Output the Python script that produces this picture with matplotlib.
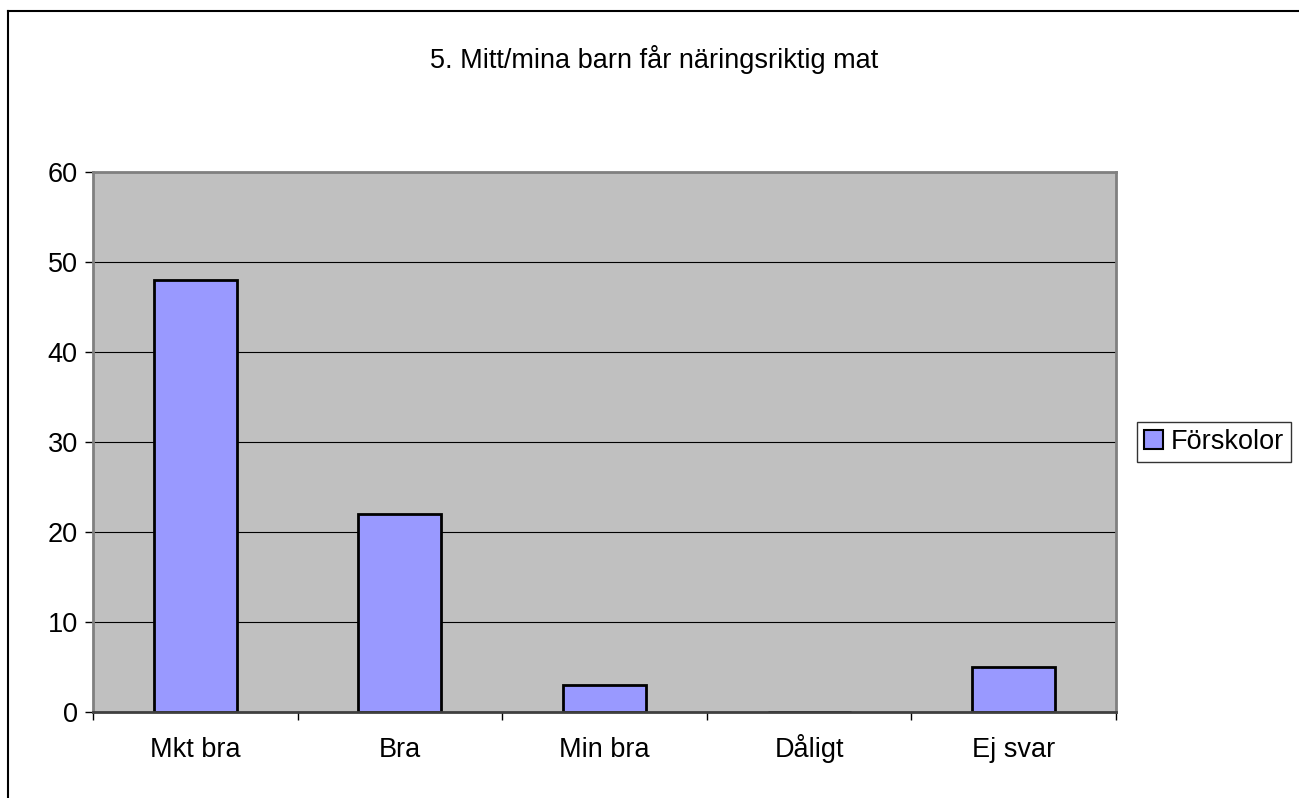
import matplotlib
matplotlib.use("Agg")
import matplotlib.pyplot as plt
from matplotlib.lines import Line2D
from matplotlib.patches import Patch
from matplotlib.transforms import blended_transform_factory

categories = ["Mkt bra", "Bra", "Min bra", "Dåligt", "Ej svar"]
values = [48, 22, 3, 0, 5]
series_name = "Förskolor"
title = "5. Mitt/mina barn får näringsriktig mat"
yticks = [0, 10, 20, 30, 40, 50, 60]

plt.rcParams['font.family'] = ['Liberation Sans', 'DejaVu Sans']
FS = 19.5
W, H = 1299, 798
fig = plt.figure(figsize=(W / 100, H / 100), dpi=100)

# outer chart border (only left/top visible)
fig.add_artist(Line2D([8 / W, 8 / W], [0, 1 - 11 / H], color="black", lw=1.5, transform=fig.transFigure))
fig.add_artist(Line2D([8 / W, 1], [1 - 11 / H, 1 - 11 / H], color="black", lw=1.5, transform=fig.transFigure))

left, right, top, bottom = 93, 1116, 172, 712
ax = fig.add_axes([left / W, 1 - bottom / H, (right - left) / W, (bottom - top) / H])
ax.set_facecolor("#c0c0c0")

x = list(range(len(categories)))
ax.bar(x, values, width=0.405, color="#9999ff", edgecolor="black", linewidth=2, zorder=2,
       label=series_name)

ax.set_xlim(-0.5, len(categories) - 0.5)
ax.set_ylim(0, 60)
ax.set_yticks(yticks)
ax.set_yticklabels([str(v) for v in yticks], fontsize=FS)
ax.yaxis.grid(True, color="black", lw=0.8, zorder=1)
ax.set_axisbelow(True)

# category labels with common baseline
ax.set_xticks([i - 0.5 for i in range(len(categories) + 1)])
ax.set_xticklabels([])
ax.tick_params(axis="x", length=6, width=1, color="black", direction="out")
ax.tick_params(axis="y", length=6, width=1, color="black", direction="out", pad=5)
trans = blended_transform_factory(ax.transData, fig.transFigure)
for xi, lab in zip(x, categories):
    ax.text(xi, 1 - 757 / H, lab, transform=trans, ha="center", va="baseline", fontsize=FS)

for s in ["top", "right", "left"]:
    ax.spines[s].set_color("#808080")
    ax.spines[s].set_linewidth(2)
ax.spines["bottom"].set_color("#404040")
ax.spines["bottom"].set_linewidth(2)
for s in ax.spines.values():
    s.set_zorder(3)

fig.text((430 + 878) / 2 / W, 1 - 60 / H, title, ha="center", va="center", fontsize=FS)

leg = fig.legend(handles=[Patch(facecolor="#9999ff", edgecolor="black", linewidth=1.5, label=series_name)],
                 loc="center", bbox_to_anchor=(1214 / W, 1 - 442 / H), fontsize=FS,
                 frameon=True, fancybox=False, handlelength=0.7, handleheight=0.7,
                 handletextpad=0.3, borderpad=0.25, borderaxespad=0)
leg.get_frame().set_edgecolor("black")
leg.get_frame().set_linewidth(1)

fig.savefig("out.png", dpi=100)
